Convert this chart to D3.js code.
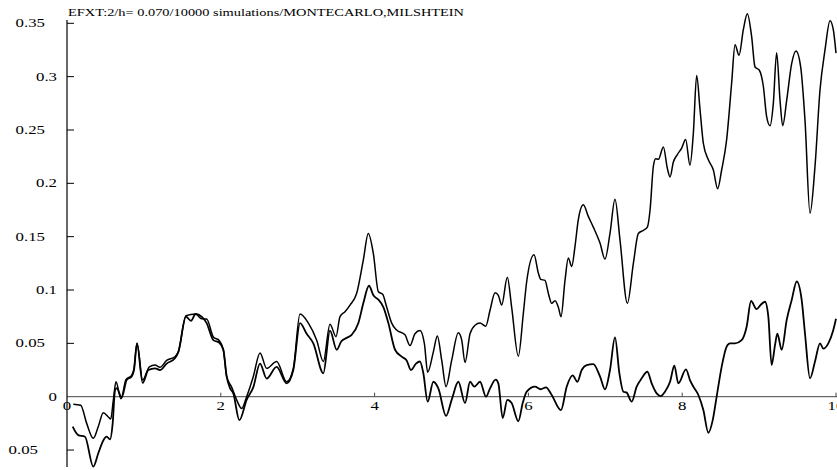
<!DOCTYPE html>
<html>
<head>
<meta charset="utf-8">
<script src="https://cdn.jsdelivr.net/npm/d3@7"></script>
<style>
  body { margin: 0; background: #fff; }
</style>
</head>
<body>
<div id="chart"></div>
<script>
// curve values
var xA = [0.082,0.178,0.256,0.342,0.407,0.472,0.537,0.568,0.603,0.637,0.702,0.767,0.841,0.871,0.91,0.984,1.071,1.144,1.209,1.296,1.404,1.448,1.547,1.673,1.751,1.816,1.903,1.981,2.033,2.076,2.141,2.206,2.272,2.336,2.423,2.51,2.596,2.726,2.857,2.943,3.03,3.139,3.247,3.333,3.42,3.498,3.55,3.615,3.68,3.767,3.853,3.918,3.984,4.049,4.105,4.157,4.222,4.287,4.395,4.46,4.525,4.59,4.647,4.69,4.764,4.816,4.873,4.929,5.002,5.089,5.133,5.176,5.241,5.306,5.371,5.445,5.501,5.566,5.609,5.653,5.726,5.782,5.869,5.934,5.978,6.073,6.129,6.16,6.216,6.259,6.303,6.346,6.389,6.424,6.476,6.519,6.563,6.606,6.649,6.714,6.779,6.844,6.931,6.996,7.061,7.126,7.191,7.287,7.365,7.43,7.495,7.547,7.582,7.625,7.655,7.69,7.755,7.807,7.842,7.885,7.937,7.993,8.045,8.101,8.145,8.188,8.232,8.275,8.34,8.405,8.461,8.513,8.578,8.643,8.687,8.739,8.795,8.847,8.903,8.947,9.003,9.055,9.098,9.142,9.185,9.228,9.272,9.307,9.359,9.424,9.48,9.541,9.597,9.662,9.727,9.792,9.857,9.922,9.965,10.0];
var yA = [-0.007,-0.008,-0.025,-0.039,-0.028,-0.015,-0.019,-0.021,-0.003,0.014,-0.002,0.016,0.020,0.026,0.050,0.0156,0.028,0.0297,0.0275,0.034,0.0375,0.042,0.076,0.0775,0.073,0.0728,0.056,0.0525,0.044,0.019,0.009,-0.003,-0.011,0,0.019,0.041,0.0266,0.033,0.014,0.0266,0.0775,0.069,0.053,0.033,0.068,0.0563,0.075,0.0797,0.0859,0.0969,0.128,0.153,0.134,0.0984,0.096,0.084,0.069,0.0625,0.058,0.048,0.059,0.062,0.05,0.023,0.042,0.057,0.034,0.0094,0.034,0.06,0.053,0.032,0.059,0.067,0.069,0.066,0.081,0.0975,0.095,0.086,0.112,0.084,0.038,0.078,0.108,0.133,0.116,0.11,0.109,0.097,0.0875,0.09,0.084,0.075,0.109,0.13,0.122,0.141,0.166,0.18,0.169,0.159,0.144,0.129,0.153,0.185,0.147,0.0875,0.125,0.153,0.156,0.159,0.175,0.216,0.223,0.2225,0.234,0.214,0.206,0.22,0.227,0.233,0.241,0.217,0.247,0.301,0.269,0.2375,0.222,0.2125,0.195,0.2125,0.241,0.294,0.33,0.32,0.344,0.359,0.3375,0.309,0.306,0.291,0.2625,0.254,0.275,0.3225,0.278,0.254,0.278,0.3125,0.324,0.309,0.259,0.172,0.216,0.2875,0.325,0.3525,0.344,0.322];

var xB = [0.074,0.147,0.234,0.342,0.407,0.472,0.516,0.559,0.594,0.624,0.646,0.711,0.776,0.841,0.871,0.91,0.984,1.058,1.144,1.209,1.296,1.404,1.448,1.547,1.612,1.673,1.751,1.816,1.903,1.981,2.033,2.076,2.12,2.163,2.241,2.336,2.423,2.51,2.596,2.726,2.857,2.943,3.03,3.117,3.203,3.333,3.42,3.507,3.568,3.633,3.702,3.789,3.853,3.927,3.984,4.049,4.114,4.179,4.266,4.352,4.417,4.473,4.538,4.59,4.634,4.69,4.764,4.829,4.929,5.002,5.089,5.176,5.241,5.297,5.371,5.449,5.501,5.575,5.609,5.666,5.726,5.782,5.869,5.926,5.978,6.086,6.16,6.229,6.303,6.424,6.498,6.576,6.637,6.693,6.758,6.844,6.931,6.996,7.061,7.126,7.183,7.235,7.278,7.343,7.408,7.473,7.547,7.603,7.668,7.72,7.776,7.842,7.898,7.95,8.049,8.101,8.145,8.21,8.275,8.34,8.397,8.448,8.513,8.578,8.622,8.687,8.773,8.838,8.895,8.968,9.02,9.077,9.12,9.163,9.207,9.237,9.294,9.359,9.424,9.489,9.554,9.597,9.662,9.727,9.792,9.835,9.9,9.965,10.0];
var yB = [-0.028,-0.036,-0.0375,-0.0656,-0.053,-0.041,-0.0375,-0.040,-0.025,0.006,0.008,-0.0006,0.0156,0.019,0.025,0.05,0.013,0.025,0.0266,0.025,0.031,0.036,0.042,0.075,0.071,0.0775,0.075,0.069,0.053,0.0506,0.044,0.019,0.008,0.003,-0.022,-0.003,0.009,0.031,0.017,0.028,0.0125,0.025,0.069,0.059,0.05,0.022,0.062,0.044,0.052,0.055,0.058,0.069,0.0875,0.104,0.095,0.091,0.084,0.069,0.044,0.0375,0.034,0.025,0.031,0.033,0.022,-0.0047,0.014,0.0078,-0.018,-0.003,0.014,-0.006,0.014,0.0094,0.014,0,0.0078,0.016,0.0125,-0.02,-0.003,-0.006,-0.023,-0.006,0.0047,0.0094,0.007,0.0088,0.0016,-0.0125,0.0094,0.02,0.014,0.025,0.0297,0.0306,0.019,0.0069,0.025,0.0556,0.022,0.0047,0.0038,-0.0047,0.0094,0.0172,0.0234,0.0125,0.0031,0.0006,0.0047,0.014,0.029,0.0125,0.0256,0.0156,0.0094,0.0016,-0.0125,-0.0338,-0.022,0,0.028,0.047,0.05,0.05,0.053,0.0656,0.0897,0.082,0.086,0.089,0.075,0.0297,0.0484,0.059,0.044,0.072,0.0906,0.108,0.0906,0.059,0.0172,0.033,0.05,0.045,0.05,0.0625,0.073];

var xTicks = [0, 2, 4, 6, 8, 10];
var xTickLabels = ["0", "2", "4", "6", "8", "10"];
var yTicks = [-0.05, 0, 0.05, 0.1, 0.15, 0.2, 0.25, 0.3, 0.35];
var yTickLabels = ["0.05", "0", "0.05", "0.1", "0.15", "0.2", "0.25", "0.3", "0.35"];
var title = "EFXT:2/h= 0.070/10000 simulations/MONTECARLO,MILSHTEIN";

var width = 837, height = 470;
var stretch = 1.4; // the picture is wider than it is tall, text too
var serif = "'Liberation Serif', 'DejaVu Serif', 'Times New Roman', serif";

var svg = d3.select("#chart").append("svg")
    .attr("width", width)
    .attr("height", height)
    .attr("font-family", serif);

var x = d3.scaleLinear().domain([0, 10]).range([67, 836]);
var y = d3.scaleLinear().domain([0, 0.35]).range([396.7, 23.3]);

function wide(sel) {
  sel.each(function() {
    var w = this.getComputedTextLength();
    d3.select(this).attr("textLength", w * stretch).attr("lengthAdjust", "spacingAndGlyphs");
  });
}

// x axis
svg.append("line")
    .attr("x1", x(0)).attr("x2", width)
    .attr("y1", y(0)).attr("y2", y(0))
    .attr("stroke", "#444").attr("stroke-width", 1);

svg.selectAll(".xtick")
    .data(xTicks.slice(1))
    .enter().append("line")
    .attr("class", "xtick")
    .attr("x1", function(d){ return x(d); })
    .attr("x2", function(d){ return x(d); })
    .attr("y1", y(0)).attr("y2", y(0) - 4)
    .attr("stroke", "#444");

svg.selectAll(".xlab")
    .data(xTicks)
    .enter().append("text")
    .attr("class", "xlab")
    .attr("x", function(d){ return x(d); })
    .attr("y", y(0) + 13)
    .attr("text-anchor", "middle")
    .attr("font-family", serif)
    .style("font-size", "12px")
    .text(function(d, i){ return xTickLabels[i]; })
    .call(wide);

// y axis
svg.append("line")
    .attr("x1", x(0)).attr("x2", x(0))
    .attr("y1", 20).attr("y2", 467)
    .attr("stroke", "#000").attr("stroke-width", 1.2);

svg.selectAll(".ytick")
    .data(yTicks.filter(function(d){ return d != 0; }))
    .enter().append("line")
    .attr("class", "ytick")
    .attr("x1", x(0)).attr("x2", x(0) + 7)
    .attr("y1", function(d){ return y(d); })
    .attr("y2", function(d){ return y(d); })
    .attr("stroke", "#000");

svg.selectAll(".ylab")
    .data(yTicks)
    .enter().append("text")
    .attr("class", "ylab")
    .attr("x", function(d, i){ return d < 0 ? 38 : (yTickLabels[i].length > 3 ? 45 : 57); })
    .attr("y", function(d){ return y(d) + 4; })
    .attr("text-anchor", "end")
    .attr("font-family", serif)
    .style("font-size", "12px")
    .text(function(d, i){ return yTickLabels[i]; })
    .call(wide);

// title
svg.append("text")
    .attr("x", 68).attr("y", 16)
    .attr("font-family", serif)
    .style("font-size", "11px")
    .text(title)
    .attr("textLength", 396)
    .attr("lengthAdjust", "spacingAndGlyphs");

// curves
var line = d3.line()
    .x(function(d){ return x(d[0]); })
    .y(function(d){ return y(d[1]); })
    .curve(d3.curveMonotoneX);

svg.append("path")
    .datum(d3.zip(xA, yA))
    .attr("fill", "none")
    .attr("stroke", "#000")
    .attr("stroke-width", 1.5)
    .attr("d", line);

svg.append("path")
    .datum(d3.zip(xB, yB))
    .attr("fill", "none")
    .attr("stroke", "#000")
    .attr("stroke-width", 1.8)
    .attr("d", line);
</script>
</body>
</html>
